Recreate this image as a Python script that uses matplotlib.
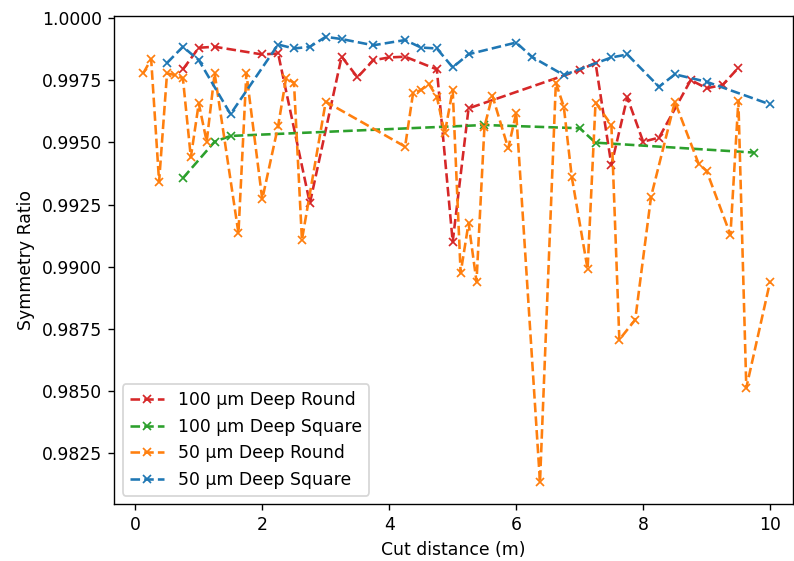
import numpy as np
import matplotlib
matplotlib.use('Agg')
import matplotlib.pyplot as plt

# Symmetry ratio measured along the cut, one series per channel type
round100_x = [0.75, 1.0, 1.25, 2.0, 2.25, 2.75, 3.25, 3.5, 3.75, 4.0, 4.25, 4.75,
              5.0, 5.25, 7.0, 7.25, 7.5, 7.75, 8.0, 8.25, 8.75, 9.0, 9.25, 9.5]
round100_y = [0.99794, 0.99881, 0.99885, 0.99854, 0.99858, 0.99255, 0.99845, 0.99762,
              0.99831, 0.99842, 0.99845, 0.99794, 0.99100, 0.99637, 0.99791, 0.99820,
              0.99409, 0.99681, 0.99503, 0.99519, 0.99751, 0.99718, 0.99731, 0.99800]

square100_x = [0.75, 1.25, 1.5, 5.5, 7.0, 7.25, 9.75]
square100_y = [0.99356, 0.99503, 0.99526, 0.99570, 0.99557, 0.99499, 0.99459]

round50_x = [0.125, 0.25, 0.375, 0.5, 0.625, 0.75, 0.875, 1.0, 1.125, 1.25, 1.625,
             1.75, 2.0, 2.25, 2.375, 2.5, 2.625, 3.0, 4.25, 4.375, 4.5, 4.625, 4.75,
             4.875, 5.0, 5.125, 5.25, 5.375, 5.5, 5.625, 5.875, 6.0, 6.375, 6.625,
             6.75, 6.875, 7.125, 7.25, 7.5, 7.625, 7.875, 8.125, 8.5, 8.875, 9.0,
             9.375, 9.5, 9.625, 10.0]
round50_y = [0.99778, 0.99835, 0.99342, 0.99778, 0.99771, 0.99758, 0.99440, 0.99657,
             0.99503, 0.99778, 0.99135, 0.99778, 0.99271, 0.99566, 0.99758, 0.99740,
             0.99108, 0.99664, 0.99483, 0.99697, 0.99711, 0.99735, 0.99684, 0.99537,
             0.99711, 0.98974, 0.99175, 0.98940, 0.99563, 0.99688, 0.99476, 0.99619,
             0.98132, 0.99740, 0.99644, 0.99362, 0.98990, 0.99660, 0.99570, 0.98706,
             0.98786, 0.99282, 0.99664, 0.99413, 0.99385, 0.99128, 0.99668, 0.98512,
             0.98940]

square50_x = [0.5, 0.75, 1.0, 1.5, 2.25, 2.5, 2.75, 3.0, 3.25, 3.75, 4.25, 4.5, 4.75,
              5.0, 5.25, 6.0, 6.25, 6.75, 7.5, 7.75, 8.25, 8.5, 9.0, 10.0]
square50_y = [0.99820, 0.99885, 0.99831, 0.99614, 0.99894, 0.99878, 0.99885, 0.99925,
              0.99916, 0.99891, 0.99912, 0.99882, 0.99878, 0.99802, 0.99855, 0.99902,
              0.99844, 0.99771, 0.99842, 0.99854, 0.99724, 0.99774, 0.99744, 0.99653]

# 124 dpi so default text and line sizes come out a bit larger
fig, ax = plt.subplots(figsize=(794 / 124, 561 / 124), dpi=124)
fig.subplots_adjust(left=0.144, right=0.9987, bottom=0.101, top=0.972)

ms = 4.5
ax.plot(round100_x, round100_y, '--x', color='tab:red', ms=ms, label='100 µm Deep Round')
ax.plot(square100_x, square100_y, '--x', color='tab:green', ms=ms, label='100 µm Deep Square')
ax.plot(round50_x, round50_y, '--x', color='tab:orange', ms=ms, label='50 µm Deep Round')
ax.plot(square50_x, square50_y, '--x', color='tab:blue', ms=ms, label='50 µm Deep Square')

ax.set_xlim(-0.33, 10.36)
ax.set_ylim(0.98043, 1.0001)
ax.set_xlabel('Cut distance (m)')
ax.set_ylabel('Symmetry Ratio')
ax.legend(loc='lower left')

fig.savefig('out.png', dpi=124)
